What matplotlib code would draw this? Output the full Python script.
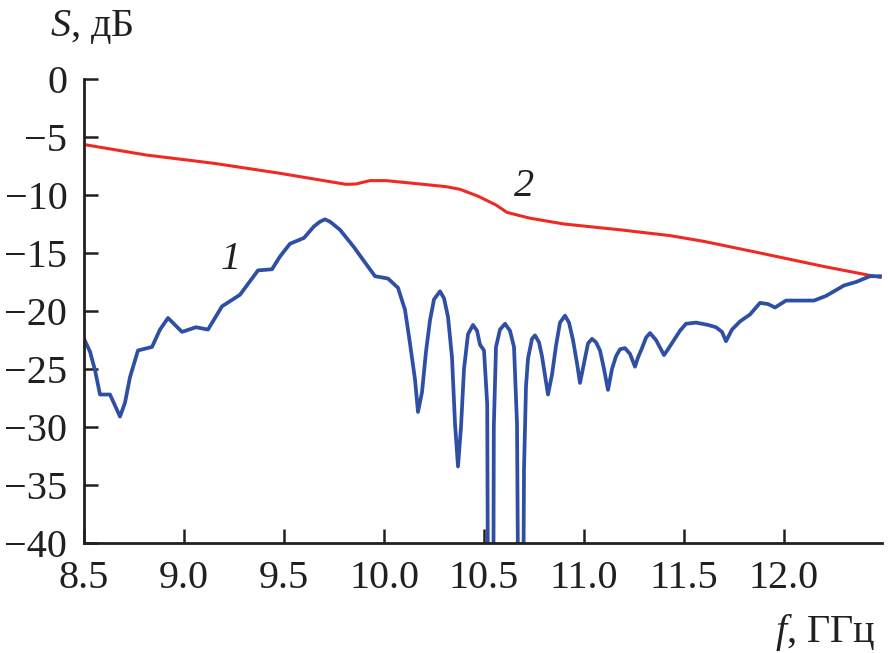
import matplotlib
matplotlib.use("Agg")
import matplotlib.pyplot as plt

plt.rcParams['font.family'] = ['Liberation Serif', 'DejaVu Serif']
plt.rcParams['mathtext.fontset'] = 'custom'
plt.rcParams['mathtext.it'] = 'Liberation Serif:italic'
plt.rcParams['mathtext.rm'] = 'Liberation Serif'

# Curve 1 (blue)
blue_f = [8.50, 8.53, 8.555, 8.58, 8.63, 8.68, 8.705, 8.73, 8.77, 8.84, 8.88, 8.92, 8.99,
          9.06, 9.12, 9.19, 9.28, 9.37, 9.44, 9.48, 9.53, 9.60, 9.65, 9.68, 9.705, 9.73, 9.78, 9.85,
          9.90, 9.955, 10.02, 10.07, 10.105, 10.13, 10.155, 10.17, 10.19, 10.21, 10.23, 10.25,
          10.28, 10.30, 10.32, 10.34, 10.355, 10.37, 10.385, 10.40, 10.42, 10.445, 10.465,
          10.48, 10.50, 10.516, 10.521,
          10.546, 10.549, 10.56, 10.58, 10.605, 10.63, 10.65, 10.665, 10.673, 10.695, 10.70,
          10.71, 10.72, 10.74, 10.755, 10.775, 10.79, 10.82, 10.84, 10.86, 10.88, 10.905,
          10.925, 10.945, 10.965, 10.98, 11.00, 11.02, 11.04, 11.06, 11.08, 11.10, 11.12,
          11.14, 11.16, 11.18, 11.205, 11.23, 11.255, 11.27, 11.29, 11.31, 11.33, 11.36,
          11.40, 11.42, 11.45, 11.48, 11.51, 11.56, 11.62, 11.66, 11.69,
          11.71, 11.74, 11.78, 11.83, 11.88, 11.92, 11.955, 12.01, 12.15, 12.21, 12.30,
          12.36, 12.43, 12.48]
blue_s = [-22.4, -23.5, -25.1, -27.2, -27.2, -29.1, -27.9, -25.7, -23.4, -23.1, -21.6, -20.6, -21.8,
          -21.4, -21.6, -19.6, -18.6, -16.5, -16.4, -15.3, -14.2, -13.7, -12.7, -12.3, -12.1, -12.3,
          -13.0, -14.5,
          -15.7, -17.0, -17.2, -18.0, -19.9, -22.8, -25.9, -28.7, -27.0, -23.5, -20.8, -19.0,
          -18.3, -18.9, -20.5, -24.0, -29.7, -33.4, -30.0, -25.0, -22.0, -21.2, -21.7,
          -22.9, -23.4, -28.0, -50.0,
          -50.0, -30.0, -23.1, -21.6, -21.1, -21.7, -23.1, -29.7, -50.0, -50.0, -33.7,
          -26.5, -24.1, -22.4, -22.1, -22.7, -23.9, -27.2, -25.5, -23.0, -21.0, -20.4,
          -21.0, -22.5, -24.5, -26.2, -24.5, -22.8, -22.4, -22.7, -23.4, -25.0, -26.8,
          -25.0, -23.9, -23.3, -23.2, -23.7, -24.8, -24.0, -23.2, -22.3, -21.9, -22.5,
          -23.8, -23.3, -22.5, -21.7, -21.1, -21.0, -21.2, -21.4, -21.8,
          -22.6, -21.6, -20.9, -20.3, -19.3, -19.4, -19.7, -19.1, -19.1, -18.7, -17.8,
          -17.5, -17.0, -17.0]

# Curve 2 (red)
red_f = [8.50, 8.81, 9.15, 9.48, 9.81, 9.86, 9.93, 10.01, 10.15, 10.31, 10.38, 10.47,
         10.56, 10.615, 10.73, 10.90, 11.18, 11.43, 11.60, 11.88, 12.21, 12.48]
red_s = [-5.65, -6.55, -7.27, -8.13, -9.08, -9.05, -8.76, -8.76, -9.0, -9.28, -9.51, -10.1,
         -10.86, -11.5, -12.0, -12.5, -13.0, -13.5, -14.0, -15.0, -16.2, -17.1]

x_ticks = [8.5, 9.0, 9.5, 10.0, 10.5, 11.0, 11.5, 12.0]
x_ticklabels = ["8.5", "9.0", "9.5", "10.0", "10.5", "11.0", "11.5", "12.0"]
y_ticks = [0, -5, -10, -15, -20, -25, -30, -35, -40]

W, H = 888, 653
fig = plt.figure(figsize=(W / 100, H / 100), dpi=100)
ax = fig.add_axes([84 / W, 1 - 543 / H, (882 - 84) / W, (543 - 79) / H])

ax.plot(red_f, red_s, color='#ee2a24', lw=2.2, solid_joinstyle='round')
ax.plot(blue_f, blue_s, color='#2f4fa5', lw=2.7, solid_joinstyle='round')

ax.set_xlim(8.5, 12.49)
ax.set_ylim(-40, 0)
ax.set_xticks(x_ticks)
ax.set_xticklabels(x_ticklabels)
ax.set_yticks(y_ticks)
ax.set_yticklabels([str(v).replace('-', '\u2212') for v in y_ticks])

for s in ['top', 'right']:
    ax.spines[s].set_visible(False)
for s in ['left', 'bottom']:
    ax.spines[s].set_linewidth(2.0)
    ax.spines[s].set_color('#231f20')

ax.tick_params(axis='both', direction='in', length=10, width=1.8, color='#231f20',
               labelsize=29, labelcolor='#231f20')
ax.tick_params(axis='x', pad=12)
ax.tick_params(axis='y', pad=12)

ax.text(9.235, -15.6, '1', fontsize=29, fontstyle='italic', color='#231f20',
        ha='center', va='center')
ax.text(10.70, -9.3, '2', fontsize=29, fontstyle='italic', color='#231f20',
        ha='center', va='center')

fig.text(50 / W, 1 - 36 / H, r'$S$, дБ', fontsize=29, color='#231f20', ha='left', va='baseline')
fig.text(875 / W, 1 - 642 / H, r'$f$, ГГц', fontsize=29, color='#231f20', ha='right', va='baseline')

fig.savefig('out.png', dpi=100)
